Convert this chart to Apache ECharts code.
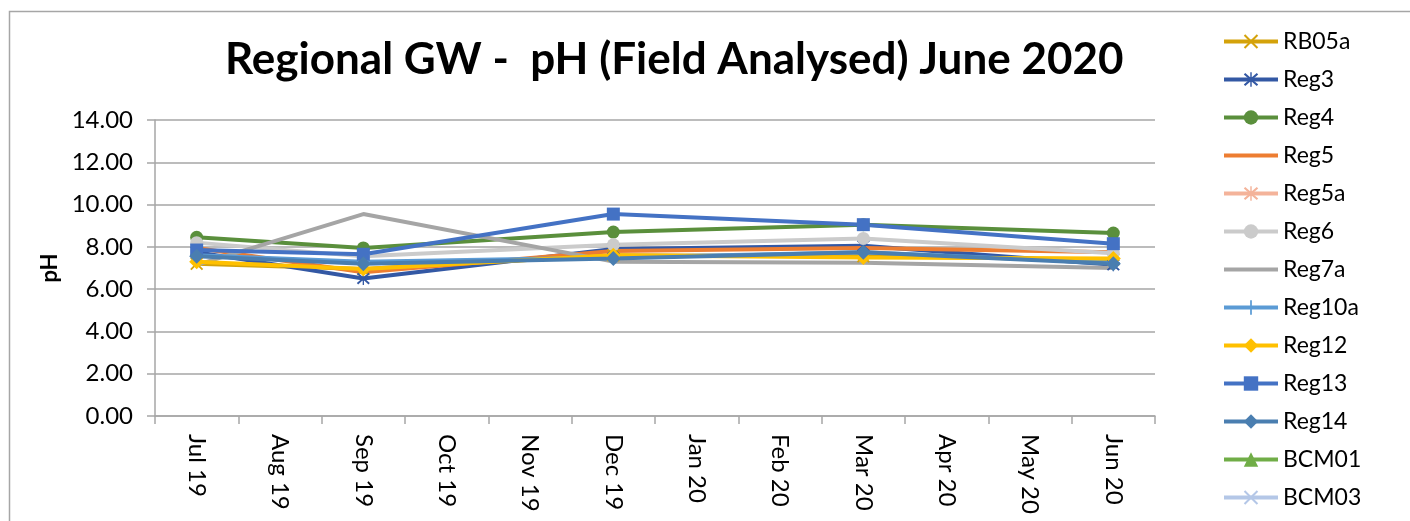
<!DOCTYPE html>
<html>
<head>
<meta charset="utf-8">
<script src="https://cdn.jsdelivr.net/npm/echarts@6/dist/echarts.min.js"></script>
<style>
    html, body { margin: 0; padding: 0; background: #fff; }
    #chart { width: 1410px; height: 521px; }
</style>
</head>
<body>
<div id="chart"></div>
<script>
const months = ["Jul 19", "Aug 19", "Sep 19", "Oct 19", "Nov 19", "Dec 19", "Jan 20", "Feb 20", "Mar 20", "Apr 20", "May 20", "Jun 20"];
const yTicks = [0, 2, 4, 6, 8, 10, 12, 14];

// sampled months only: Jul 19, Sep 19, Dec 19, Mar 20, Jun 20
const rb05a = [7.2, null, 6.95, null, null, 7.6, null, null, 7.55, null, null, 7.4];
const reg3 = [7.75, null, 6.5, null, null, 7.9, null, null, 8.05, null, null, 7.15];
const reg4 = [8.45, null, 7.95, null, null, 8.7, null, null, 9.05, null, null, 8.65];
const reg5 = [7.95, null, 6.8, null, null, 7.8, null, null, 7.95, null, null, 7.75];
const reg5a = [null, null, null, null, null, null, null, null, null, null, null, null];
const reg6 = [8.2, null, 7.55, null, null, 8.1, null, null, 8.4, null, null, 7.7];
const reg7a = [7.15, null, 9.55, null, null, 7.3, null, null, 7.25, null, null, 7.0];
const reg10a = [7.6, null, 7.3, null, null, 7.5, null, null, 7.75, null, null, 7.25];
const reg12 = [7.3, null, 6.95, null, null, 7.6, null, null, 7.5, null, null, 7.45];
const reg13 = [7.85, null, 7.65, null, null, 9.55, null, null, 9.05, null, null, 8.15];
const reg14 = [7.55, null, 7.2, null, null, 7.45, null, null, 7.75, null, null, 7.2];
const bcm01 = [null, null, null, null, null, null, null, null, null, null, null, null];
const bcm03 = [null, null, null, null, null, null, null, null, null, null, null, null];

const FONT = "Lato, 'Open Sans', sans-serif";

// filled outlines so the stroke-style markers actually show
const CROSS = "path://M0,1 L1,0 L5,4 L9,0 L10,1 L6,5 L10,9 L9,10 L5,6 L1,10 L0,9 L4,5 Z";
const STAR = "path://M0,1.5 L1,0.5 L5,4 L9,0.5 L10,1.5 L6,5 L10,8.5 L9,9.5 L5,6 L1,9.5 L0,8.5 L4,5 Z M4.5,0 L5.5,0 L5.5,10 L4.5,10 Z";
const PLUS = "path://M4.4,0 L5.6,0 L5.6,4.4 L10,4.4 L10,5.6 L5.6,5.6 L5.6,10 L4.4,10 L4.4,5.6 L0,5.6 L0,4.4 L4.4,4.4 Z";
const BAR = "path://M0,0 L54,0 L54,4 L0,4 Z";

const seriesDefs = [
    { name: "RB05a", data: rb05a, color: "#d4a20a", symbol: CROSS },
    { name: "Reg3", data: reg3, color: "#3358a4", symbol: STAR },
    { name: "Reg4", data: reg4, color: "#5a8f3c", symbol: "circle" },
    { name: "Reg5", data: reg5, color: "#ed7d31", symbol: "none" },
    { name: "Reg5a", data: reg5a, color: "#f4b39a", symbol: STAR },
    { name: "Reg6", data: reg6, color: "#cbcbcb", symbol: "circle" },
    { name: "Reg7a", data: reg7a, color: "#a5a5a5", symbol: "none" },
    { name: "Reg10a", data: reg10a, color: "#5b9bd5", symbol: PLUS },
    { name: "Reg12", data: reg12, color: "#ffc000", symbol: "diamond" },
    { name: "Reg13", data: reg13, color: "#4472c4", symbol: "rect" },
    { name: "Reg14", data: reg14, color: "#4a7eb0", symbol: "diamond" },
    { name: "BCM01", data: bcm01, color: "#70ad47", symbol: "triangle" },
    { name: "BCM03", data: bcm03, color: "#b4c7e7", symbol: CROSS },
];

const chart = echarts.init(document.getElementById("chart"));

chart.setOption({
    animation: false,
    backgroundColor: "#fff",
    textStyle: { fontFamily: FONT },
    title: {
        text: "Regional GW -  pH (Field Analysed) June 2020",
        left: 220,
        top: 33,
        textStyle: { fontFamily: FONT, fontSize: 44, fontWeight: "bold", color: "#000" },
    },
    graphic: [{
        type: "rect",
        shape: { x: 9.5, y: 11.5, width: 1500, height: 600 },
        style: { fill: "none", stroke: "#a6a6a6", lineWidth: 1.5 },
        silent: true,
        z: -1,
    }],
    legend: {
        orient: "vertical",
        left: 1222,
        top: 30,
        height: 700,
        padding: 0,
        itemWidth: 54,
        itemHeight: 18,
        itemGap: 15,
        lineStyle: { width: 4 },
        textStyle: { fontFamily: FONT, fontSize: 23, color: "#000", lineHeight: 22 },
        data: seriesDefs.map((s) => (s.symbol === "none" ? { name: s.name, icon: BAR } : { name: s.name })),
    },
    grid: { left: 155, right: 255, top: 120, bottom: 105 },
    xAxis: {
        type: "category",
        data: months,
        boundaryGap: true,
        axisLine: { lineStyle: { color: "#a6a6a6", width: 1.5 } },
        axisTick: { show: true, length: 8, lineStyle: { color: "#a6a6a6", width: 1.5 } },
        axisLabel: { rotate: -90, margin: 18, fontSize: 24, color: "#000", fontFamily: FONT },
    },
    yAxis: {
        type: "value",
        min: yTicks[0],
        max: yTicks[yTicks.length - 1],
        interval: 2,
        name: "pH",
        nameLocation: "middle",
        nameRotate: 90,
        nameGap: 85,
        nameTextStyle: { fontFamily: FONT, fontSize: 22, fontWeight: "bold", color: "#000" },
        axisLine: { show: true, lineStyle: { color: "#a6a6a6", width: 1.5 } },
        axisTick: { show: true, length: 8, lineStyle: { color: "#a6a6a6", width: 1.5 } },
        axisLabel: { fontSize: 24, color: "#000", margin: 22, fontFamily: FONT, formatter: (v) => v.toFixed(2) },
        splitLine: { lineStyle: { color: "#a6a6a6", width: 1.5 } },
    },
    series: seriesDefs.map((s) => ({
        name: s.name,
        type: "line",
        data: s.data,
        connectNulls: true,
        symbol: s.symbol,
        symbolSize: s.symbol === "diamond" ? 15 : 13,
        showSymbol: s.symbol !== "none",
        lineStyle: { color: s.color, width: 4 },
        itemStyle: { color: s.color },
        emphasis: { disabled: true },
    })),
});
</script>
</body>
</html>
